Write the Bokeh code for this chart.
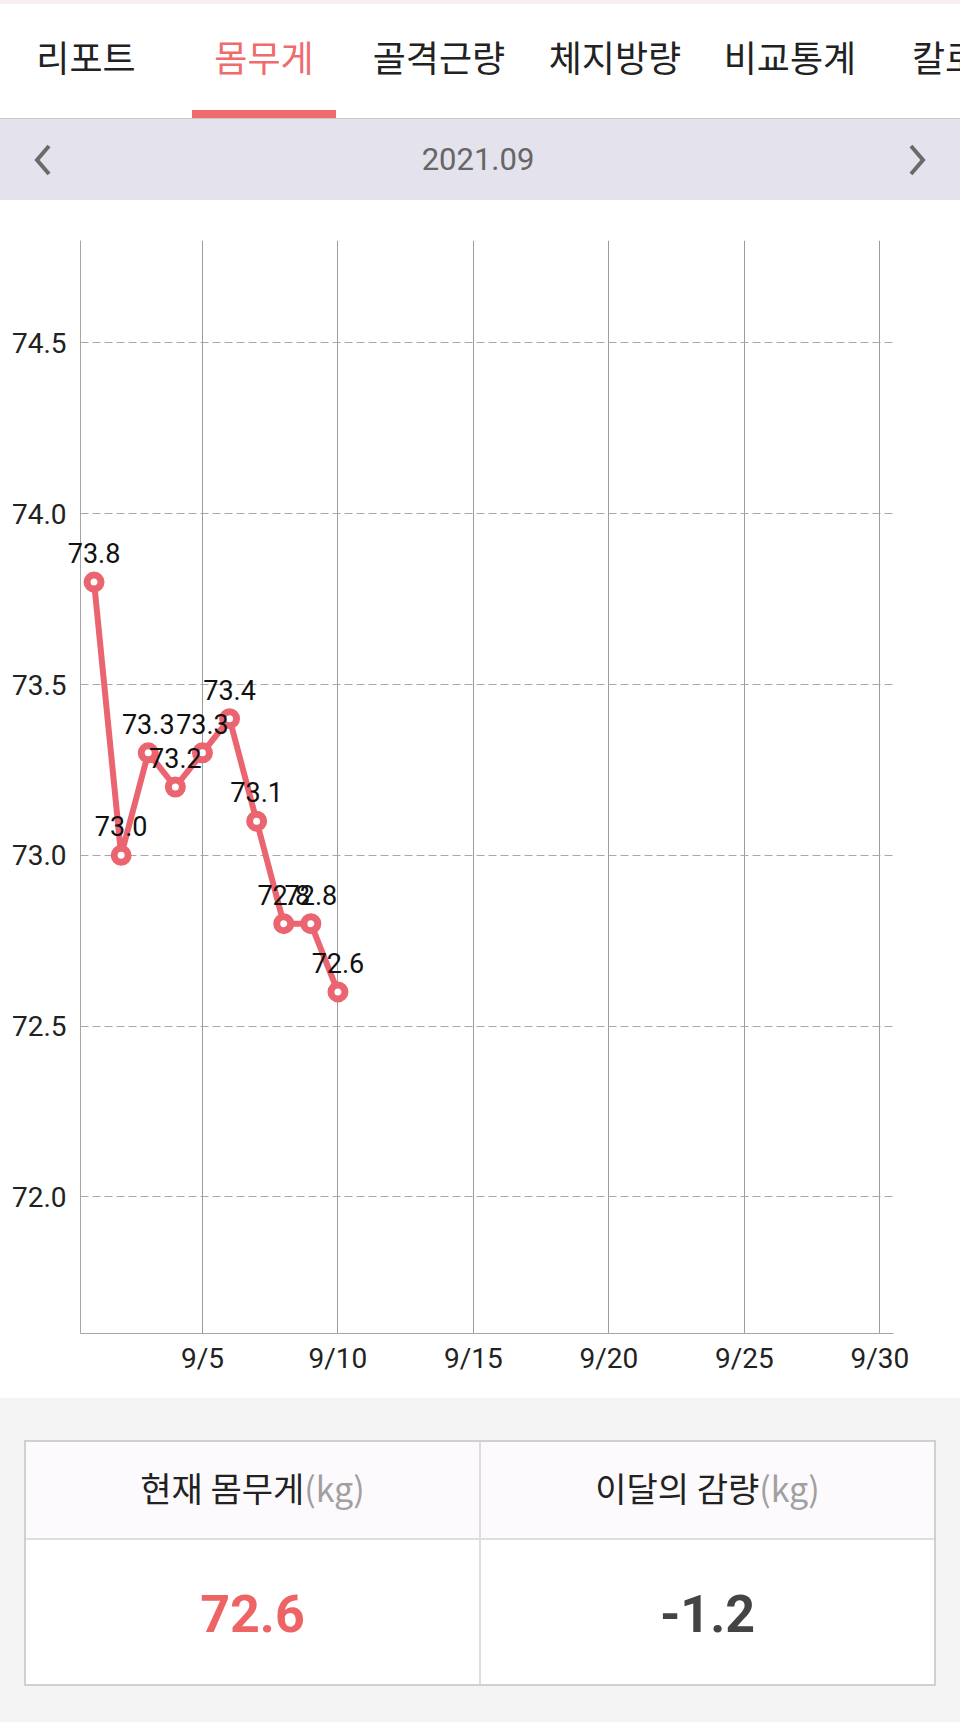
from bokeh.plotting import figure
from bokeh.layouts import column
from bokeh.models import Div, Range1d, FixedTicker, ColumnDataSource
from bokeh.core.properties import value
from bokeh.embed import file_html
from bokeh.resources import INLINE

# ---------------- data ----------------
days = [1, 2, 3, 4, 5, 6, 7, 8, 9, 10]
weights = [73.8, 73.0, 73.3, 73.2, 73.3, 73.4, 73.1, 72.8, 72.8, 72.6]
x_tick_days = [5, 10, 15, 20, 25, 30]
x_tick_labels = ["9/5", "9/10", "9/15", "9/20", "9/25", "9/30"]
y_ticks = [72.0, 72.5, 73.0, 73.5, 74.0, 74.5]
y_tick_labels = ["72.0", "72.5", "73.0", "73.5", "74.0", "74.5"]
tabs = ["리포트", "몸무게", "골격근량", "체지방량", "비교통계", "칼로리"]
month_label = "2021.09"
current_weight = 72.6
month_change = -1.2

RED = "#EA6570"
KR = "'Noto Sans CJK KR', 'Noto Sans', sans-serif"
NUM = "Roboto, 'Noto Sans', sans-serif"

# ---------------- header ----------------
tab_centers = [86, 264, 439, 615, 790]
tab_html = ""
for i, t in enumerate(tabs):
    color = "#F06B6B" if i == 1 else "#222222"
    if i < len(tab_centers):
        tab_html += (f'<div style="position:absolute;left:{tab_centers[i]-110}px;top:29px;width:220px;'
                     f'height:54px;line-height:54px;text-align:center;font-size:36px;color:{color};'
                     f'font-family:{KR};white-space:nowrap;">{t}</div>')
    else:
        tab_html += (f'<div style="position:absolute;left:912px;top:29px;height:54px;line-height:54px;'
                     f'font-size:36px;color:{color};font-family:{KR};white-space:nowrap;">{t}</div>')

header_html = f'''
<div style="position:relative;width:960px;height:200px;overflow:hidden;background:#ffffff;">
  <div style="position:absolute;left:0;top:0;width:960px;height:4px;background:#F6EEF1;"></div>
  {tab_html}
  <div style="position:absolute;left:192px;top:110px;width:144px;height:8px;background:#F06B6B;"></div>
  <div style="position:absolute;left:0;top:118px;width:960px;height:1px;background:#C9C8CE;"></div>
  <div style="position:absolute;left:0;top:119px;width:960px;height:81px;background:#E4E2EC;"></div>
  <div style="position:absolute;left:378px;top:138px;width:200px;height:44px;line-height:44px;text-align:center;
       font-size:31px;color:#666666;font-family:{NUM};">{month_label}</div>
  <svg style="position:absolute;left:0;top:119px;" width="960" height="81">
    <polyline points="49,27 37,41 49,55" fill="none" stroke="#6a6a6a" stroke-width="4"/>
    <polyline points="911,27 923,41 911,55" fill="none" stroke="#6a6a6a" stroke-width="4"/>
  </svg>
</div>
'''
header = Div(text=header_html, width=960, height=200, margin=0)

# ---------------- chart ----------------
src = ColumnDataSource(dict(x=days, y=weights, label=[f"{w:.1f}" for w in weights]))

p = figure(width=960, height=1198, output_backend="svg", toolbar_location=None,
           x_range=Range1d(0.5, 30.5), y_range=Range1d(71.6, 74.8),
           min_border_left=80, min_border_right=67, min_border_top=40, min_border_bottom=65,
           background_fill_color="#ffffff", border_fill_color="#ffffff", margin=0)
p.outline_line_color = None

p.xaxis.ticker = FixedTicker(ticks=x_tick_days)
p.xaxis.major_label_overrides = dict(zip(x_tick_days, x_tick_labels))
p.yaxis.ticker = FixedTicker(ticks=y_ticks)
p.yaxis.major_label_overrides = dict(zip(y_ticks, y_tick_labels))

for ax in (p.xaxis, p.yaxis):
    ax.axis_line_color = "#A6A6A6"
    ax.axis_line_width = 1
    ax.major_tick_line_color = None
    ax.minor_tick_line_color = None
    ax.major_tick_out = 0
    ax.major_tick_in = 0
    ax.major_label_text_font = "Roboto"
    ax.major_label_text_color = "#222222"
    ax.major_label_text_font_size = "28px"

p.xaxis.major_label_standoff = 8
p.yaxis.major_label_standoff = 14

p.xgrid.ticker = FixedTicker(ticks=x_tick_days)
p.xgrid.grid_line_color = "#9C9C9C"
p.xgrid.grid_line_width = 1
p.ygrid.ticker = FixedTicker(ticks=y_ticks)
p.ygrid.grid_line_color = "#A8A8A8"
p.ygrid.grid_line_dash = "8 4"
p.ygrid.grid_line_width = 1

p.line("x", "y", source=src, line_color=RED, line_width=6, line_join="round")
p.scatter("x", "y", source=src, size=14, fill_color="#ffffff", line_color=RED, line_width=7)

# value labels drawn on the overlay level so they may spill past the frame edge
p.text("x", "y", text="label", source=src, text_align="center", text_baseline="alphabetic",
       y_offset=-29, text_font=value("Roboto"), text_font_size="27px", text_color="#111111",
       level="overlay")

# ---------------- table ----------------
table_html = f'''
<div style="position:relative;width:960px;height:324px;overflow:hidden;background:#F4F4F5;">
  <div style="position:absolute;left:24px;top:42px;width:912px;height:246px;box-sizing:border-box;
       border:2px solid #D0D0D2;background:#ffffff;overflow:hidden;">
    <div style="position:absolute;left:0;top:0;width:908px;height:96px;background:#FDFAFD;"></div>
    <div style="position:absolute;left:0;top:96px;width:908px;height:2px;background:#DEDEDE;"></div>
    <div style="position:absolute;left:453px;top:0;width:2px;height:242px;background:#DEDEDE;"></div>
    <div style="position:absolute;left:0;top:21px;width:453px;height:50px;line-height:50px;text-align:center;
         font-size:34px;color:#222;font-family:{KR};white-space:nowrap;">현재 몸무게<span style="color:#A0A0A0;">(kg)</span></div>
    <div style="position:absolute;left:455px;top:21px;width:453px;height:50px;line-height:50px;text-align:center;
         font-size:34px;color:#222;font-family:{KR};white-space:nowrap;">이달의 감량<span style="color:#A0A0A0;">(kg)</span></div>
    <div style="position:absolute;left:0;top:141px;width:453px;height:64px;line-height:64px;text-align:center;
         font-size:52px;font-weight:bold;color:#EE6363;font-family:{NUM};">{current_weight:.1f}</div>
    <div style="position:absolute;left:455px;top:141px;width:453px;height:64px;line-height:64px;text-align:center;
         font-size:52px;font-weight:bold;color:#444444;font-family:{NUM};">{month_change:.1f}</div>
  </div>
</div>
'''
table = Div(text=table_html, width=960, height=324, margin=0)

layout = column(header, p, table, spacing=0, margin=0)

open("out.html", "w").write(file_html(layout, INLINE))
